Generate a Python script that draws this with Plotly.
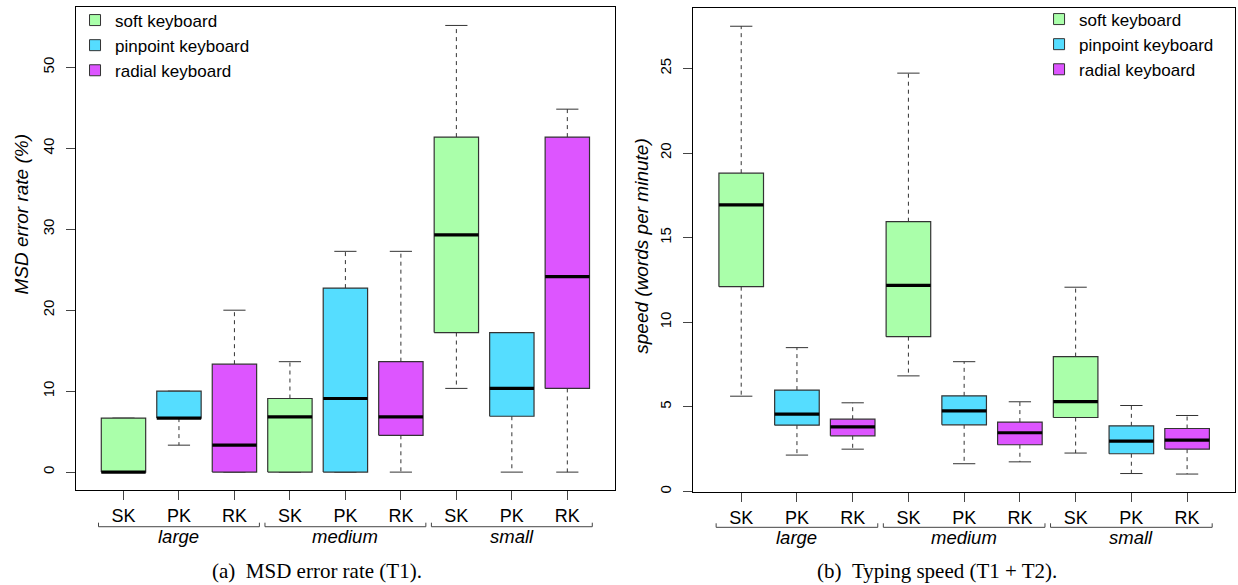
import plotly.graph_objects as go

# ---------------- data ----------------
groups = ["large", "medium", "small"]
keyboards = ["SK", "PK", "RK"]
keyboard_names = ["soft keyboard", "pinpoint keyboard", "radial keyboard"]
keyboard_colors = ["#AAFFAA", "#55DDFF", "#DD55FF"]

# order: large SK, PK, RK, medium SK, PK, RK, small SK, PK, RK
err_min = [0.0, 3.33, 0.0, 0.0, 0.0, 0.0, 10.34, 0.0, 0.0]
err_q1 = [0.0, 6.67, 0.0, 0.0, 0.0, 4.55, 17.24, 6.90, 10.34]
err_median = [0.0, 6.67, 3.33, 6.82, 9.09, 6.82, 29.31, 10.34, 24.14]
err_q3 = [6.67, 10.0, 13.33, 9.09, 22.73, 13.64, 41.38, 17.24, 41.38]
err_max = [6.67, 10.0, 20.0, 13.64, 27.27, 27.27, 55.17, 17.24, 44.83]

spd_min = [5.63, 2.15, 2.50, 6.83, 1.64, 1.75, 2.27, 1.06, 1.03]
spd_q1 = [12.10, 3.92, 3.29, 9.15, 3.94, 2.76, 4.37, 2.23, 2.50]
spd_median = [16.94, 4.57, 3.82, 12.18, 4.76, 3.47, 5.31, 2.98, 3.03]
spd_q3 = [18.81, 5.99, 4.27, 15.94, 5.65, 4.10, 7.97, 3.88, 3.72]
spd_max = [27.49, 8.50, 5.24, 24.72, 7.67, 5.30, 12.07, 5.08, 4.49]

err_ticks = [0, 10, 20, 30, 40, 50]
spd_ticks = [0, 5, 10, 15, 20, 25]

y_titles = ["MSD error rate (%)", "speed (words per minute)"]
captions = ["(a)\u2002MSD error rate (T1).", "(b)\u2002Typing speed (T1 + T2)."]

# ---------------- style ----------------
SANS = "Liberation Sans, Arial, Helvetica, sans-serif"
SERIF = "Liberation Serif, Times New Roman, serif"
HALF = 0.4      # half box width (boxwex 0.8)
CAP = 0.2       # half staple width
EDGE = "#333333"

positions = [g * len(keyboards) + k + 1 for g in range(len(groups)) for k in range(len(keyboards))]
tick_labels = [keyboards[k] for g in range(len(groups)) for k in range(len(keyboards))]
group_centers = [g * len(keyboards) + 2 for g in range(len(groups))]

fig = go.Figure()


def add_panel(xa, ya, mins, q1s, meds, q3s, maxs, legend_name):
    # whiskers (dashed)
    wx, wy = [], []
    cx, cy = [], []
    for p, lo, q1, q3, hi in zip(positions, mins, q1s, q3s, maxs):
        wx += [p, p, None, p, p, None]
        wy += [q3, hi, None, q1, lo, None]
        cx += [p - CAP, p + CAP, None, p - CAP, p + CAP, None]
        cy += [hi, hi, None, lo, lo, None]
    fig.add_trace(go.Scatter(x=wx, y=wy, mode="lines", xaxis=xa, yaxis=ya,
                             line=dict(color=EDGE, width=1, dash="4px,4px"),
                             showlegend=False, hoverinfo="skip"))
    fig.add_trace(go.Scatter(x=cx, y=cy, mode="lines", xaxis=xa, yaxis=ya,
                             line=dict(color=EDGE, width=1),
                             showlegend=False, hoverinfo="skip"))
    # boxes, one trace per keyboard type
    for k, color in enumerate(keyboard_colors):
        bx, by = [], []
        for i, p in enumerate(positions):
            if i % len(keyboards) != k:
                continue
            bx += [p - HALF, p + HALF, p + HALF, p - HALF, p - HALF, None]
            by += [q1s[i], q1s[i], q3s[i], q3s[i], q1s[i], None]
        fig.add_trace(go.Scatter(x=bx, y=by, mode="lines", fill="toself",
                                 fillcolor=color, xaxis=xa, yaxis=ya,
                                 line=dict(color=EDGE, width=1.2),
                                 showlegend=False, hoverinfo="skip"))
    # medians
    mx, my = [], []
    for p, m in zip(positions, meds):
        mx += [p - HALF, p + HALF, None]
        my += [m, m, None]
    fig.add_trace(go.Scatter(x=mx, y=my, mode="lines", xaxis=xa, yaxis=ya,
                             line=dict(color="black", width=3.2),
                             showlegend=False, hoverinfo="skip"))
    # legend entries
    for name, color in zip(keyboard_names, keyboard_colors):
        fig.add_trace(go.Scatter(x=[None], y=[None], mode="markers", name=name,
                                 xaxis=xa, yaxis=ya, legend=legend_name,
                                 marker=dict(symbol="square", size=11, color=color,
                                             line=dict(color=EDGE, width=1)),
                                 showlegend=True, hoverinfo="skip"))


add_panel("x", "y", err_min, err_q1, err_median, err_q3, err_max, "legend")
add_panel("x2", "y2", spd_min, spd_q1, spd_median, spd_q3, spd_max, "legend2")

xcommon = dict(range=[0.14, 9.86], tickmode="array", tickvals=positions, ticktext=tick_labels,
               ticks="outside", ticklen=9, tickcolor="#444", tickwidth=1, automargin=False,
               showline=True, mirror=True, linecolor="black", linewidth=1,
               showgrid=False, zeroline=False, fixedrange=True,
               tickfont=dict(family=SANS, size=18, color="black"))
ycommon = dict(tickmode="array", ticks="outside", ticklen=9, tickcolor="#444", tickwidth=1,
               tickangle=-90, showline=True, mirror=True, linecolor="black", linewidth=1,
               showgrid=False, zeroline=False, fixedrange=True, automargin=False,
               ticklabelstandoff=6,
               tickfont=dict(family=SANS, size=15, color="black"))

fig.update_layout(
    width=1238, height=585,
    margin=dict(l=0, r=0, t=0, b=0, autoexpand=False),
    paper_bgcolor="white", plot_bgcolor="white",
    xaxis=dict(domain=[0.0612, 0.4968], anchor="y", **xcommon),
    yaxis=dict(domain=[0.1624, 0.9875], anchor="x", range=[-2.208, 57.41],
               tickvals=err_ticks, **ycommon),
    xaxis2=dict(domain=[0.5600, 0.9976], anchor="y2", **xcommon),
    yaxis2=dict(domain=[0.1590, 0.9858], anchor="x2", range=[-0.03, 28.55],
                tickvals=spd_ticks, **ycommon),
    legend=dict(x=0.0606, y=0.9957, xanchor="left", yanchor="top",
                bgcolor="rgba(0,0,0,0)", font=dict(family=SANS, size=17, color="black"),
                itemwidth=30, tracegroupgap=0),
    legend2=dict(x=0.8393, y=0.9974, xanchor="left", yanchor="top",
                 bgcolor="rgba(0,0,0,0)", font=dict(family=SANS, size=17, color="black"),
                 itemwidth=30, tracegroupgap=0),
)

# group brackets and labels under the x axes
shapes = []
annotations = []
bracket_y = {"x": (0.0996, 0.1065), "x2": (0.0986, 0.1055)}
for xa in ["x", "x2"]:
    yl, yt = bracket_y[xa]
    for gname, gc in zip(groups, group_centers):
        x0, x1 = gc - 1.45, gc + 1.45
        shapes.append(dict(type="path", xref=xa, yref="paper",
                           path=f"M {x0},{yt} L {x0},{yl} L {x1},{yl} L {x1},{yt}",
                           line=dict(color="#444", width=1)))
        annotations.append(dict(x=gc, y=0.0826 if xa == "x" else 0.0815, xref=xa, yref="paper",
                                text=f"<i>{gname}</i>", showarrow=False,
                                xanchor="center", yanchor="middle",
                                font=dict(family=SANS, size=18.5, color="black")))

# y axis titles
annotations.append(dict(x=0.01737, y=0.6325, xref="paper", yref="paper", text=f"<i>{y_titles[0]}</i>",
                        textangle=-90, showarrow=False, xanchor="center", yanchor="middle",
                        font=dict(family=SANS, size=19, color="black")))
annotations.append(dict(x=0.5186, y=0.5783, xref="paper", yref="paper", text=f"<i>{y_titles[1]}</i>",
                        textangle=-90, showarrow=False, xanchor="center", yanchor="middle",
                        font=dict(family=SANS, size=19, color="black")))
# captions
for cx_, cap in zip([0.256, 0.757], captions):
    annotations.append(dict(x=cx_, y=0.0239, xref="paper", yref="paper", text=cap,
                            showarrow=False, xanchor="center", yanchor="middle",
                            font=dict(family=SERIF, size=21, color="black")))

fig.update_layout(shapes=shapes, annotations=annotations)

fig.write_html("out.html", config={"displayModeBar": False},
               post_script="document.body.style.margin='0';document.body.style.overflow='hidden';")
